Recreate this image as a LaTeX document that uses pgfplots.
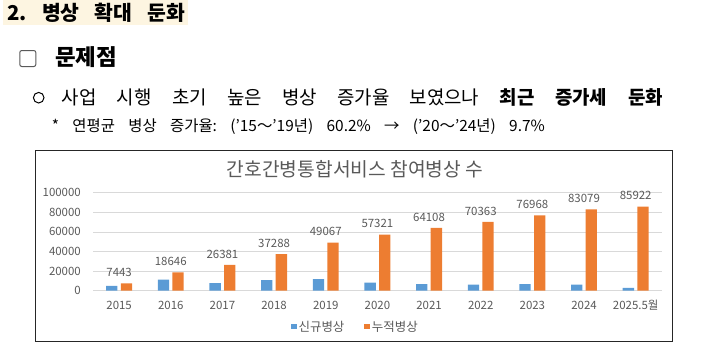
\documentclass[border=0pt]{standalone}
\usepackage{fontspec}
\setmainfont{Noto Sans CJK KR}
\usepackage{pgfplots}
\pgfplotsset{compat=1.18}
\definecolor{xlblue}{HTML}{5B9BD5}
\definecolor{xlorange}{HTML}{ED7D31}
\definecolor{txtgray}{HTML}{595959}
\definecolor{gridgray}{HTML}{D9D9D9}
\definecolor{cream}{RGB}{253,245,225}
\frenchspacing
\begin{document}
\begin{tikzpicture}[x=1bp,y=1bp]
\useasboundingbox (0,0) rectangle (713,-352);
% header
\fill[cream] (3,0) rectangle (188,-25);
\node[anchor=west, inner sep=0pt, font=\fontsize{20.5}{24}\selectfont\bfseries] at (7,-13) {\makebox[178bp][s]{2. 병상 확대 둔화}};
\draw[line width=1bp, black!65, rounded corners=2bp] (19.8,-50.5) rectangle (35.8,-66.5);
\node[anchor=west, inner sep=0pt, font=\fontsize{22.5}{26}\selectfont\bfseries] at (55,-57.5) {문제점};
\draw[line width=1bp] (38.7,-97.7) circle (5.3);
\node[anchor=west, inner sep=0pt, font=\fontsize{19}{22}\selectfont] at (61.7,-97.2) {\makebox[601bp][s]{사업 시행 초기 높은 병상 증가율 보였으나 \textbf{최근 증가세 둔화}}};
\node[anchor=west, inner sep=0pt, font=\fontsize{15.5}{18}\selectfont] at (51.7,-126.7) {\makebox[493bp][s]{* 연평균 병상 증가율: (’15～’19년) 60.2\% → (’20～’24년) 9.7\%}};
% chart box
\draw[line width=1bp, black!85] (35.7,-150.7) rectangle (672.3,-341);
\node[font=\fontsize{19.3}{22}\selectfont, text=txtgray] at (355,-169) {간호간병통합서비스 참여병상 수};
\begin{axis}[
  at={(93.3bp,-290.7bp)}, anchor=south west,
  scale only axis, width=568.2bp, height=98bp,
  xmin=-0.5, xmax=10.5, ymin=0, ymax=100000,
  clip=false,
  axis x line*=bottom, axis y line*=left,
  y axis line style={draw=none},
  x axis line style={gridgray, line width=0.75bp},
  ymajorgrids, grid style={gridgray, line width=0.75bp},
  major tick length=0pt,
  ytick={0,20000,40000,60000,80000,100000},
  scaled y ticks=false,
  yticklabel style={font=\fontsize{11.5}{13}\selectfont, text=txtgray, inner sep=0pt, xshift=-12.3bp,
    /pgf/number format/fixed, /pgf/number format/1000 sep={}, /pgf/number format/assume math mode=true},
  xtick={0,1,2,3,4,5,6,7,8,9,10},
  xticklabels={2015,2016,2017,2018,2019,2020,2021,2022,2023,2024,2025.5월},
  xticklabel style={font=\fontsize{11.5}{13}\selectfont, text=txtgray, anchor=base, yshift=-18.3bp},
  legend style={at={(0.4613,-0.367)}, anchor=center, draw=none, fill=none,
    font=\fontsize{12.5}{14}\selectfont, text=txtgray, legend columns=2,
    /tikz/every even column/.append style={column sep=18bp}},
]
\addplot[ybar, bar width=11.3bp, bar shift=-7.3bp, fill=xlblue, draw=none,
  legend image code/.code={\fill[xlblue] (0bp,-2.7bp) rectangle (5.5bp,2.7bp);}]
  coordinates {(0,5000) (1,11203) (2,7735) (3,10907) (4,11779) (5,8254) (6,6787) (7,6255) (8,6605) (9,6111) (10,2843)};
\addlegendentry{신규병상}
\addplot[ybar, bar width=11.3bp, bar shift=7.3bp, fill=xlorange, draw=none,
  legend image code/.code={\fill[xlorange] (0bp,-2.7bp) rectangle (5.5bp,2.7bp);},
  nodes near coords,
  nodes near coords style={font=\fontsize{11.5}{13}\selectfont, text=txtgray, anchor=south, inner sep=0pt, yshift=6.3bp,
    /pgf/number format/fixed, /pgf/number format/1000 sep={}, /pgf/number format/assume math mode=true}]
  coordinates {(0,7443) (1,18646) (2,26381) (3,37288) (4,49067) (5,57321) (6,64108) (7,70363) (8,76968) (9,83079) (10,85922)};
\addlegendentry{누적병상}
\end{axis}
\end{tikzpicture}
\end{document}
